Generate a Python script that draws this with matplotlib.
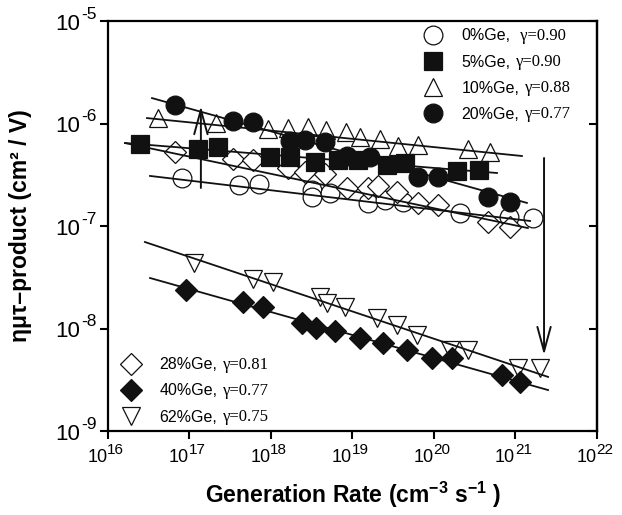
import numpy as np
import matplotlib.pyplot as plt
from matplotlib.ticker import LogLocator, NullLocator

plt.rcParams['font.family'] = ['Liberation Sans', 'DejaVu Sans']
plt.rcParams['mathtext.fontset'] = 'custom'
plt.rcParams['mathtext.rm'] = 'Liberation Sans'
plt.rcParams['mathtext.bf'] = 'Liberation Sans:bold'
plt.rcParams['axes.unicode_minus'] = False

# data (generation rate in cm^-3 s^-1, eta*mu*tau in cm^2/V)
g0 = [8.1e16, 4.05e17, 7.1e17, 3.18e18, 3.18e18, 5.3e18, 1.55e19, 2.5e19, 4.17e19, 2.08e20, 8.3e20, 1.64e21]
m0 = [2.94e-7, 2.51e-7, 2.57e-7, 2.25e-7, 1.92e-7, 2.10e-7, 1.68e-7, 1.79e-7, 1.71e-7, 1.34e-7, 1.22e-7, 1.20e-7]

g5 = [2.47e16, 1.27e17, 2.24e17, 9.7e17, 1.71e18, 3.47e18, 6.64e18, 1.17e19, 2.65e19, 4.41e19, 1.92e20, 3.56e20]
m5 = [6.31e-7, 5.64e-7, 5.90e-7, 4.71e-7, 4.71e-7, 4.21e-7, 4.41e-7, 4.41e-7, 3.94e-7, 4.12e-7, 3.44e-7, 3.52e-7]

g10 = [4.11e16, 2.11e17, 9.2e17, 1.62e18, 2.85e18, 4.73e18, 8.3e18, 1.24e19, 2.17e19, 3.61e19, 6.36e19, 2.61e20, 4.87e20]
m10 = [1.13e-6, 1.01e-6, 8.84e-7, 9.04e-7, 9.25e-7, 8.65e-7, 8.27e-7, 7.38e-7, 7.06e-7, 6.03e-7, 6.17e-7, 5.64e-7, 5.27e-7]

g20 = [6.64e16, 3.42e17, 6.0e17, 1.71e18, 2.61e18, 4.6e18, 8.57e18, 1.64e19, 6.36e19, 1.12e20, 4.6e20, 8.57e20]
m20 = [1.51e-6, 1.06e-6, 1.03e-6, 6.75e-7, 6.90e-7, 6.60e-7, 4.82e-7, 4.71e-7, 3.01e-7, 3.01e-7, 1.92e-7, 1.71e-7]

g28 = [6.64e16, 3.42e17, 6.0e17, 1.62e18, 2.61e18, 4.6e18, 8.57e18, 1.55e19, 2.06e19, 3.52e19, 6.36e19, 1.12e20, 4.6e20, 8.57e20]
m28 = [5.27e-7, 4.51e-7, 4.41e-7, 3.68e-7, 3.36e-7, 3.22e-7, 2.35e-7, 2.35e-7, 2.46e-7, 2.15e-7, 1.68e-7, 1.60e-7, 1.09e-7, 9.77e-8]

g40 = [9.06e16, 4.53e17, 8.0e17, 2.4e18, 3.56e18, 6.1e18, 1.24e19, 2.37e19, 4.67e19, 9.45e19, 1.66e20, 6.83e20, 1.14e21]
m40 = [2.38e-8, 1.82e-8, 1.62e-8, 1.13e-8, 1.01e-8, 9.46e-9, 8.08e-9, 7.22e-9, 6.17e-9, 5.15e-9, 5.15e-9, 3.52e-9, 3.01e-9]

g62 = [1.14e17, 6.0e17, 1.06e18, 3.99e18, 4.86e18, 8.1e18, 2.0e19, 3.52e19, 6.18e19, 1.57e20, 2.61e20, 1.07e21, 2.0e21]
m62 = [4.36e-8, 3.04e-8, 2.84e-8, 2.03e-8, 1.77e-8, 1.62e-8, 1.27e-8, 1.08e-8, 8.65e-9, 6.17e-9, 6.17e-9, 4.12e-9, 4.12e-9]

# fitted power-law lines: (start, end) of each
fit_g = {'0': [3.28e16, 1.51e21], '5': [1.62e16, 5.93e20], '10': [3.01e16, 1.20e21],
         '20': [3.47e16, 1.38e21], '28': [1.62e16, 1.42e21], '40': [3.28e16, 2.51e21],
         '62': [2.84e16, 2.51e21]}
fit_m = {'0': [3.08e-7, 1.12e-7], '5': [6.45e-7, 3.29e-7], '10': [1.13e-6, 4.82e-7],
         '20': [1.77e-6, 1.68e-7], '28': [6.45e-7, 9.55e-8], '40': [3.11e-8, 2.51e-9],
         '62': [6.98e-8, 3.37e-9]}

labels_top = ['0%Ge,', '5%Ge,', '10%Ge,', '20%Ge,']
gamma_top = [' \u03b3=0.90', '\u03b3=0.90', '\u03b3=0.88', '\u03b3=0.77']
labels_bot = ['28%Ge,', '40%Ge,', '62%Ge,']
gamma_bot = ['\u03b3=0.81', '\u03b3=0.77', '\u03b3=0.75']

x_exps = [16, 17, 18, 19, 20, 21, 22]
y_exps = [-9, -8, -7, -6, -5]

# arrows (x, y_from, y_to)
arrow_up = (1.38e17, 2.35e-7, 1.48e-6)
arrow_down = (2.24e21, 4.61e-7, 5.51e-9)

blk = '#111111'
fig = plt.figure(figsize=(6.22, 5.15), dpi=100)
ax = fig.add_axes([0.1736, 0.1631, 0.7862, 0.7961])
ax.set_xscale('log')
ax.set_yscale('log')

open_kw = dict(ls='none', mfc='white', mec=blk, mew=0.9)
fill_kw = dict(ls='none', mfc=blk, mec=blk, mew=0.9)

h0, = ax.plot(g0, m0, marker='o', ms=13.5, **open_kw)
h28, = ax.plot(g28, m28, marker='D', ms=11, **open_kw)
h10, = ax.plot(g10, m10, marker='^', ms=13, **open_kw)
h62, = ax.plot(g62, m62, marker='v', ms=13, **open_kw)
h5, = ax.plot(g5, m5, marker='s', ms=13, **fill_kw)
h20, = ax.plot(g20, m20, marker='o', ms=13.5, **fill_kw)
h40, = ax.plot(g40, m40, marker='D', ms=11, **fill_kw)

for k in fit_g:
    ax.plot(fit_g[k], fit_m[k], color=blk, lw=1.3, zorder=3)

for x, y0, y1 in [arrow_up, arrow_down]:
    ax.annotate('', xy=(x, y1), xytext=(x, y0),
                arrowprops=dict(arrowstyle='->,head_length=1.1,head_width=0.3',
                                lw=1.4, color=blk, shrinkA=0, shrinkB=0,
                                mutation_scale=16), zorder=4)

ax.set_xlim(1e16, 1e22)
ax.set_ylim(1e-9, 1e-5)
ax.xaxis.set_major_locator(LogLocator(base=10, numticks=10))
ax.yaxis.set_major_locator(LogLocator(base=10, numticks=10))
ax.xaxis.set_minor_locator(NullLocator())
ax.yaxis.set_minor_locator(NullLocator())
ax.tick_params(axis='both', which='major', direction='out', length=6, width=1.5,
               top=False, right=False, labelbottom=False, labelleft=False)

sec = ax.secondary_yaxis('right')
sec.yaxis.set_major_locator(LogLocator(base=10, numticks=10))
sec.yaxis.set_minor_locator(NullLocator())
sec.tick_params(direction='in', length=6, width=1.5, labelright=False)
sec.spines['right'].set_linewidth(1.6)

for s in ax.spines.values():
    s.set_linewidth(1.6)

# tick labels: "10" with a large raised exponent
for e in x_exps:
    ax.annotate('10', xy=(10.0**e, 0), xycoords=('data', 'axes fraction'),
                xytext=(-0.5, -13), textcoords='offset points', ha='right', va='top',
                fontsize=13, annotation_clip=False)
    ax.annotate(str(e), xy=(10.0**e, 0), xycoords=('data', 'axes fraction'),
                xytext=(-0.5, -8.5), textcoords='offset points', ha='left', va='top',
                fontsize=11, annotation_clip=False)
for e in y_exps:
    sup = ax.annotate('-%d' % -e, xy=(0, 10.0**e), xycoords=('axes fraction', 'data'),
                      xytext=(-8, 1.5), textcoords='offset points', ha='right',
                      va='baseline', fontsize=12.5, annotation_clip=False)
    ax.annotate('10', xy=(0, 0), xycoords=sup, xytext=(-1, -5.5),
                textcoords='offset points', ha='right', va='baseline',
                fontsize=16, annotation_clip=False)

ax.set_xlabel('Generation Rate (cm$^{\\mathbf{-3}}$ s$^{\\mathbf{-1}}$ )',
              fontsize=16.5, fontweight='bold')
ax.xaxis.set_label_coords(0.5, -0.12)
ax.set_ylabel('\u03b7\u03bc\u03c4\u2013product (cm\u00b2 / V)', fontsize=16.5, fontweight='bold')
ax.yaxis.set_label_coords(-0.155, 0.5)

leg1 = ax.legend([h0, h5, h10, h20], labels_top, loc='upper left',
                 bbox_to_anchor=(0.648, 0.982), frameon=False, fontsize=11.5,
                 handlelength=1.0, handletextpad=1.3, borderpad=0, borderaxespad=0,
                 labelspacing=0.7, numpoints=1)
ax.add_artist(leg1)
leg2 = ax.legend([h28, h40, h62], labels_bot, loc='upper left',
                 bbox_to_anchor=(0.030, 0.180), frameon=False, fontsize=11.5,
                 handlelength=1.0, handletextpad=1.3, borderpad=0, borderaxespad=0,
                 labelspacing=0.7, numpoints=1)

for leg, gams in [(leg1, gamma_top), (leg2, gamma_bot)]:
    for t, gm in zip(leg.get_texts(), gams):
        ax.annotate(gm, xy=(1, 0.5), xycoords=t, xytext=(4, 0),
                    textcoords='offset points', va='center', ha='left',
                    fontsize=12, family=['Liberation Serif', 'DejaVu Serif'],
                    zorder=7)

fig.savefig('out.png', dpi=100)
